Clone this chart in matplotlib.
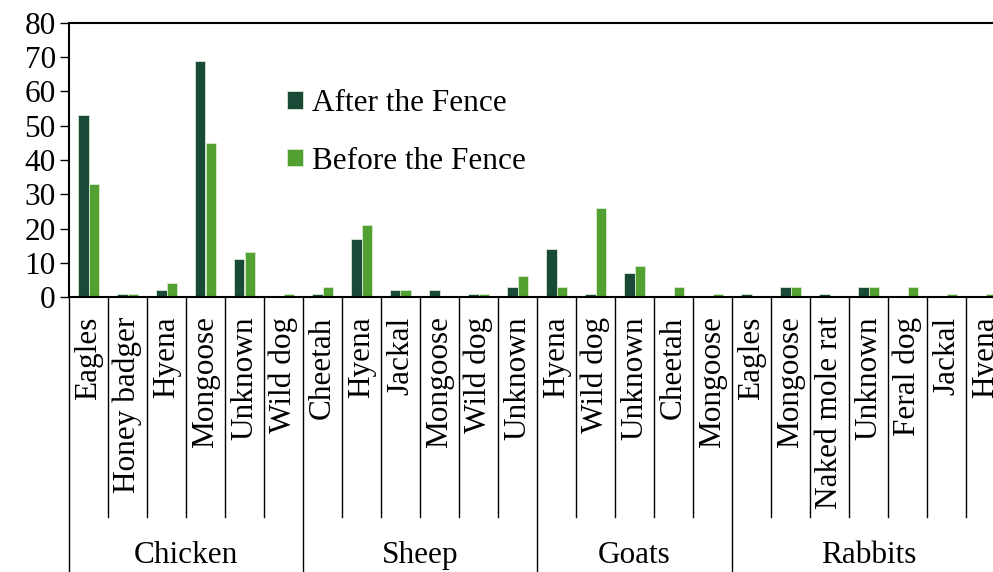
import matplotlib
matplotlib.use('Agg')
import matplotlib.pyplot as plt
import matplotlib.transforms as mtransforms
import numpy as np

plt.rcParams['font.family'] = ['Liberation Serif', 'DejaVu Serif']

# Data
groups = ['Chicken', 'Sheep', 'Goats', 'Rabbits']
predators = [
    ['Eagles', 'Honey badger', 'Hyena', 'Mongoose', 'Unknown', 'Wild dog'],
    ['Cheetah', 'Hyena', 'Jackal', 'Mongoose', 'Wild dog', 'Unknown'],
    ['Hyena', 'Wild dog', 'Unknown', 'Cheetah', 'Mongoose'],
    ['Eagles', 'Mongoose', 'Naked mole rat', 'Unknown', 'Feral dog', 'Jackal', 'Hyena'],
]
after_fence = [53, 1, 2, 69, 11, 0,
               1, 17, 2, 2, 1, 3,
               14, 1, 7, 0, 0,
               1, 3, 1, 3, 0, 0, 0]
before_fence = [33, 1, 4, 45, 13, 1,
                3, 21, 2, 0, 1, 6,
                3, 26, 9, 3, 1,
                0, 3, 0, 3, 3, 1, 1]

dark_green = '#194a37'
light_green = '#52a032'
fs = 22.5

labels = [p for grp in predators for p in grp]
x = np.arange(len(labels))
w = 0.275

fig = plt.figure(figsize=(9.93, 5.72), dpi=100)
# axes runs a little past the right edge, as in the original
ax = fig.add_axes([69/993, 275/572, 936/993, 274/572])

ax.bar(x - w/2, after_fence, w, color=dark_green, edgecolor='#d8ead0', linewidth=0.6,
       label='After the Fence')
ax.bar(x + w/2, before_fence, w, color=light_green, edgecolor='#d8ead0', linewidth=0.6,
       label='Before the Fence')

ax.set_xlim(-0.5, len(labels) - 0.5)
ax.set_ylim(0, 80)
ax.set_yticks(range(0, 81, 10))
ax.tick_params(axis='y', direction='out', length=6.5, width=1, labelsize=fs, pad=3)
ax.set_xticks(x)
ax.set_xticklabels(labels, rotation=90, va='top', ha='center', fontsize=fs)
ax.tick_params(axis='x', length=0, pad=14)

for side in ['left', 'top', 'bottom', 'right']:
    ax.spines[side].set_linewidth(1.5)

# category separators under the axis
trans = mtransforms.blended_transform_factory(ax.transData, ax.transAxes)
bounds = np.cumsum([0] + [len(g) for g in predators]) - 0.5
for b in np.arange(-0.5, len(labels) - 0.4, 1.0):
    if np.any(np.isclose(b, bounds)):
        ax.plot([b, b], [0, -1.05], color='black', lw=1, transform=trans, clip_on=False)
    else:
        ax.plot([b, b], [0, -0.803], color='black', lw=1, transform=trans, clip_on=False)

for i, g in enumerate(groups):
    centre = (bounds[i] + bounds[i + 1]) / 2
    ax.text(centre, -0.942, g, transform=trans, ha='center', va='center', fontsize=fs)

ax.legend(loc='upper left', bbox_to_anchor=(0.233, 0.76), frameon=False, fontsize=fs,
          handlelength=0.5, handleheight=0.5, handletextpad=0.3, labelspacing=0.92,
          borderpad=0, borderaxespad=0)

fig.savefig('out.png', dpi=100)
